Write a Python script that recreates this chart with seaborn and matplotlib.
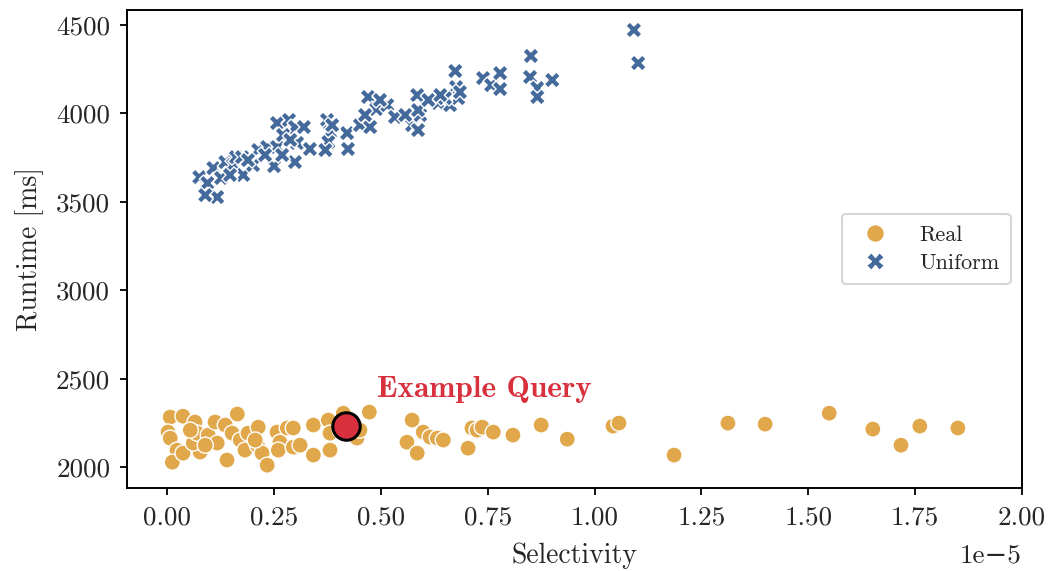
import matplotlib
matplotlib.use("Agg")
import matplotlib.pyplot as plt
import seaborn as sns
import pandas as pd
import numpy as np

# Selectivity in units of 1e-5, runtime in ms
uniform_sel = [0.075, 0.094, 0.117, 0.108, 0.126, 0.136, 0.154, 0.161, 0.178, 0.175,
               0.201, 0.213, 0.234, 0.250, 0.257, 0.257, 0.285, 0.299, 0.304, 0.299,
               0.320, 0.334, 0.374, 0.381, 0.377, 0.421, 0.423, 0.451, 0.470, 0.475,
               0.489, 0.515, 0.533, 0.573, 0.585, 0.592, 0.634, 0.662, 0.674, 0.676,
               0.681, 0.739, 0.758, 0.779, 0.779, 0.851, 0.849, 0.866, 0.866, 0.901,
               1.092, 1.102, 0.089, 0.147, 0.189, 0.229, 0.271, 0.288, 0.269, 0.370,
               0.386, 0.463, 0.498, 0.557, 0.587, 0.587, 0.650, 0.685, 0.611, 0.639]
uniform_rt = [3640, 3606, 3527, 3691, 3635, 3725, 3708, 3753, 3652, 3753,
              3708, 3793, 3810, 3702, 3810, 3946, 3963, 3923, 3833, 3725,
              3923, 3799, 3963, 3895, 3838, 3889, 3799, 3934, 4093, 3923,
              4025, 4047, 3980, 3934, 4104, 3991, 4059, 4047, 4240, 4149,
              4087, 4200, 4160, 4228, 4138, 4325, 4206, 4144, 4093, 4189,
              4472, 4285, 3538, 3652, 3736, 3765, 3878, 3850, 3765, 3793,
              3934, 3991, 4076, 3991, 4019, 3906, 4087, 4121, 4076, 4104]

real_sel = [0.007, 0.037, 0.065, 0.002, 0.007, 0.023, 0.012, 0.037, 0.077, 0.061,
            0.070, 0.096, 0.112, 0.117, 0.136, 0.140, 0.164, 0.152, 0.171, 0.189,
            0.182, 0.213, 0.211, 0.222, 0.234, 0.257, 0.264, 0.260, 0.281, 0.295,
            0.295, 0.342, 0.342, 0.377, 0.381, 0.381, 0.412, 0.428, 0.444, 0.473,
            0.561, 0.573, 0.585, 0.599, 0.615, 0.632, 0.646, 0.704, 0.713, 0.725,
            0.737, 0.763, 0.809, 0.875, 0.936, 1.043, 1.057, 1.186, 1.312, 1.399,
            1.549, 1.651, 1.717, 1.761, 1.850, 0.054, 0.089, 0.206, 0.311, 0.405,
            0.451]
real_rt = [2283, 2288, 2255, 2198, 2164, 2096, 2028, 2079, 2085, 2136,
           2192, 2181, 2255, 2136, 2238, 2040, 2300, 2192, 2153, 2192,
           2096, 2226, 2124, 2079, 2011, 2198, 2141, 2096, 2221, 2221,
           2113, 2238, 2068, 2266, 2192, 2096, 2305, 2238, 2164, 2311,
           2141, 2266, 2079, 2198, 2170, 2164, 2153, 2107, 2221, 2209,
           2226, 2198, 2181, 2238, 2158, 2232, 2249, 2068, 2249, 2243,
           2305, 2215, 2124, 2232, 2221, 2209, 2124, 2153, 2124, 2209,
           2209]

example_sel = [0.419]
example_rt = [2232]

categories = ["Real", "Uniform"]
colors = {"Real": "#E0A84A", "Uniform": "#44699B"}
example_color = "#D9303E"

df = pd.DataFrame({
    "Selectivity": np.array(real_sel + uniform_sel) * 1e-5,
    "Runtime [ms]": real_rt + uniform_rt,
    "Dist": ["Real"] * len(real_sel) + ["Uniform"] * len(uniform_sel),
})
ex = pd.DataFrame({"Selectivity": np.array(example_sel) * 1e-5,
                   "Runtime [ms]": example_rt})

sns.set_theme(style="ticks")
plt.rcParams["font.family"] = ["cmr10", "DejaVu Serif"]
plt.rcParams["mathtext.fontset"] = "cm"
plt.rcParams["axes.formatter.use_mathtext"] = False

fig = plt.figure(figsize=(10.55, 5.71), dpi=100)
ax = fig.add_axes([0.1204, 0.1454, 0.8483, 0.8371])

sns.scatterplot(data=df, x="Selectivity", y="Runtime [ms]", hue="Dist", style="Dist",
                hue_order=categories, style_order=categories,
                markers={"Real": "o", "Uniform": "X"}, palette=colors,
                s=135, edgecolor="white", linewidth=1.0, ax=ax)
sns.scatterplot(data=ex, x="Selectivity", y="Runtime [ms]", color=example_color,
                s=390, edgecolor="black", linewidth=2.2, ax=ax, legend=False, zorder=5)

ax.text(0.49e-5, 2440, "Example Query", color=example_color, fontsize=22.5,
        family=["cmb10", "DejaVu Serif"], fontweight="bold", va="center", ha="left")

ax.set_xlim(-0.094e-5, 2.0e-5)
ax.set_ylim(1882, 4585)
ax.set_xticks(np.arange(0, 2.01e-5, 0.25e-5))
ax.set_yticks([2000, 2500, 3000, 3500, 4000, 4500])

for sp in ax.spines.values():
    sp.set_visible(True)
    sp.set_color("black")
    sp.set_linewidth(1.4)
ax.tick_params(axis="both", labelsize=19.5, length=5, width=1.3, color="black")
ax.tick_params(axis="x", pad=8)
ax.tick_params(axis="y", pad=7)
ax.xaxis.get_offset_text().set_fontsize(19.5)
ax.xaxis.OFFSETTEXTPAD = 10
ax.set_xlabel("Selectivity", fontsize=20, labelpad=9)
ax.set_ylabel("Runtime [ms]", fontsize=20, labelpad=9)

leg = ax.legend(loc="center right", fontsize=16, frameon=True, title=None,
                borderpad=0.5, labelspacing=0.4, handletextpad=1.0, markerscale=1.1)
leg.get_frame().set_edgecolor("#cccccc")
leg.get_frame().set_linewidth(1.5)

fig.savefig("out.png", dpi=100)
